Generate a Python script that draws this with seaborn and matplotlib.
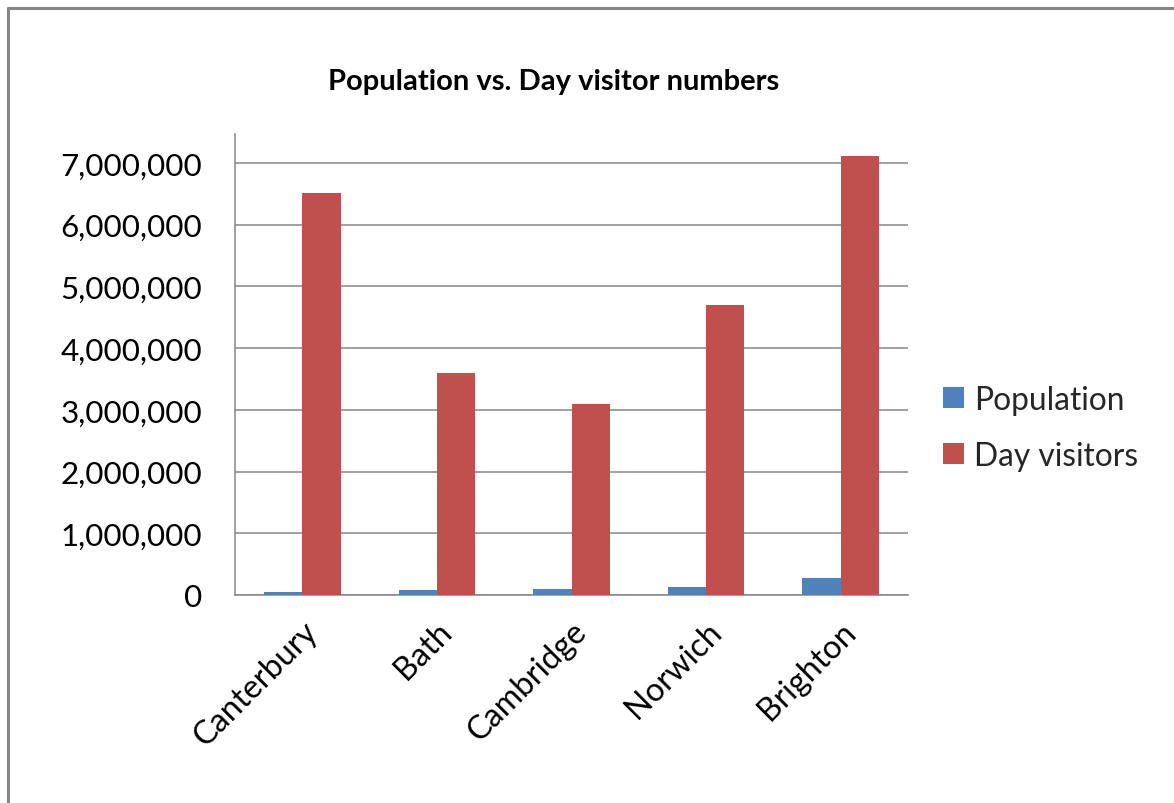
import matplotlib
matplotlib.use("Agg")
import matplotlib.pyplot as plt
import matplotlib.ticker as mticker
import matplotlib.transforms as mtransforms
from matplotlib.lines import Line2D
from matplotlib.patches import Patch
import seaborn as sns
import pandas as pd

# Data
cities = ["Canterbury", "Bath", "Cambridge", "Norwich", "Brighton"]
population = [43000, 83000, 100000, 130000, 270000]
day_visitors = [6520000, 3600000, 3100000, 4700000, 7110000]
series_names = ["Population", "Day visitors"]
series_colors = ["#4F81BD", "#C0504D"]
y_ticks = [0, 1000000, 2000000, 3000000, 4000000, 5000000, 6000000, 7000000]
title = "Population vs. Day visitor numbers"

df = pd.DataFrame({
    "City": cities * 2,
    "Series": [series_names[0]] * len(cities) + [series_names[1]] * len(cities),
    "Value": population + day_visitors,
})

sns.set_style("white")
plt.rcParams["font.family"] = ["Lato", "DejaVu Sans"]

W, H, DPI = 1174, 804, 100
fig = plt.figure(figsize=(W / DPI, H / DPI), dpi=DPI)
renderer = fig.canvas.get_renderer()


def size_for_width(s, width_px, weight="normal", base=20):
    """Font size (pt) at which string s renders width_px wide."""
    t = fig.text(0, 0, s, fontsize=base, fontweight=weight)
    w = t.get_window_extent(renderer).width
    t.remove()
    return base * width_px / w


tick_fs = size_for_width("7,000,000", 142)
cat_fs = size_for_width("Canterbury", 162)
legend_fs = size_for_width("Population", 151)
title_fs = size_for_width(title, 452, weight="bold")

px = 72 / DPI  # points per pixel

ax = fig.add_axes([235 / W, 1 - 596 / H, (908 - 235) / W, (596 - 135) / H])

sns.barplot(data=df, x="City", y="Value", hue="Series", hue_order=series_names,
            palette=series_colors, width=0.57, gap=0, saturation=1,
            edgecolor="none", linewidth=0, legend=False, ax=ax, zorder=3)

ax.set_xlim(-0.5, len(cities) - 0.5)
ax.set_ylim(0, 7470000)
ax.set_yticks(y_ticks)
ax.yaxis.set_major_formatter(mticker.FuncFormatter(lambda v, p: f"{int(v):,}"))
ax.grid(axis="y", color="#868686", linewidth=1.1, zorder=0)
ax.set_axisbelow(True)
ax.set_xlabel("")
ax.set_ylabel("")

for side in ["top", "right"]:
    ax.spines[side].set_visible(False)
for side in ["left", "bottom"]:
    ax.spines[side].set_color("#868686")
    ax.spines[side].set_linewidth(1.1)

# Category boundary ticks on the x axis, labels at category centres
ax.set_xticks([i - 0.5 for i in range(len(cities) + 1)])
ax.set_xticklabels([])
ax.set_xticks(range(len(cities)), minor=True)
ax.set_xticklabels(cities, minor=True, rotation=45, ha="right", rotation_mode="anchor",
                   fontsize=cat_fs, color="#000000")
shift = mtransforms.ScaledTranslation(-14 / DPI, 0, fig.dpi_scale_trans)
for lbl in ax.get_xticklabels(minor=True):
    lbl.set_transform(lbl.get_transform() + shift)
ax.tick_params(axis="x", which="major", length=10 * px, width=1.1, color="#868686",
               direction="out")
ax.tick_params(axis="x", which="minor", length=0, pad=21 * px)
ax.tick_params(axis="y", length=13 * px, width=1.1, color="#868686", direction="out",
               labelsize=tick_fs, labelcolor="#000000", pad=20 * px)

fig.text(554 / W, 1 - 82 / H, title, ha="center", va="center",
         fontsize=title_fs, fontweight="bold", color="#000000")

# Legend with small square keys
em_px = legend_fs / px
handles = [Patch(facecolor=c, edgecolor="none") for c in series_colors]
fig.legend(handles, series_names, loc="upper left",
           bbox_to_anchor=(943 / W, 1 - 386 / H), frameon=False, borderpad=0,
           borderaxespad=0, fontsize=legend_fs,
           handlelength=21 / em_px, handleheight=20 / em_px,
           handletextpad=10 / em_px, labelspacing=(51 - 25) / em_px)

# Outer chart border
border_kw = dict(color="#868686", linewidth=2.2, transform=fig.transFigure)
fig.add_artist(Line2D([8 / W, 8 / W], [-0.01, 1 - 9 / H], **border_kw))
fig.add_artist(Line2D([8 / W, 1.01], [1 - 9 / H, 1 - 9 / H], **border_kw))

fig.savefig("out.png", dpi=DPI, facecolor="white")
